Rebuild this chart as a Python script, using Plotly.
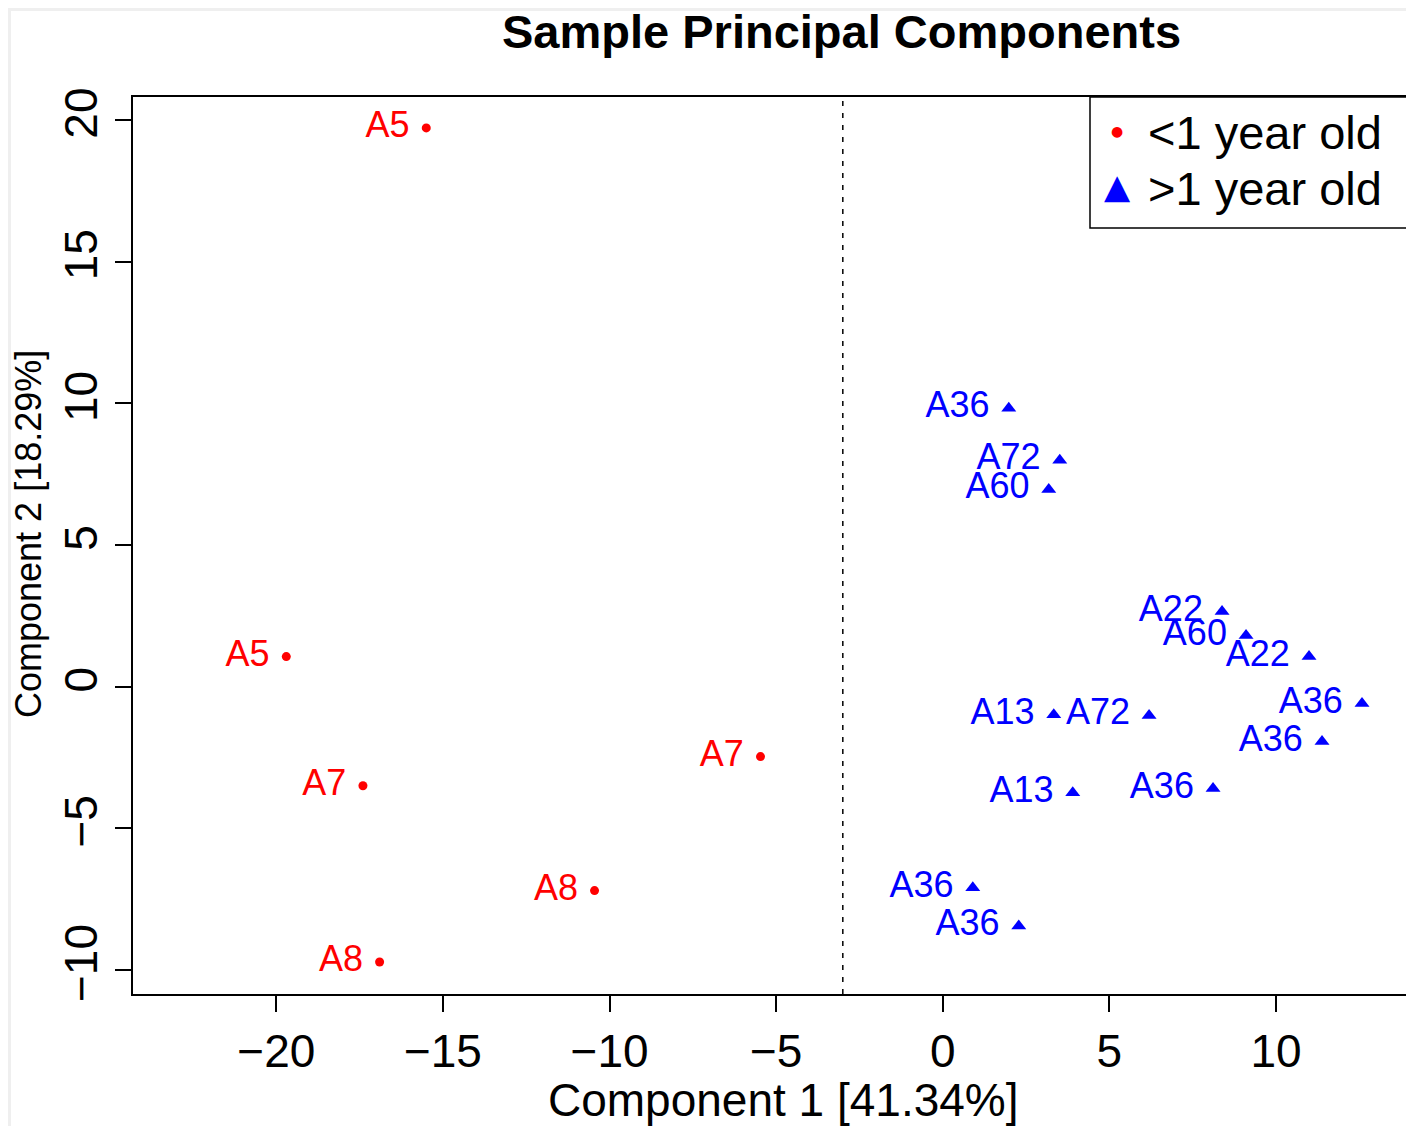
import plotly.graph_objects as go

# Data
young_labels = ["A5", "A5", "A7", "A7", "A8", "A8"]
young_pc1 = [-15.5, -19.7, -17.4, -5.47, -10.45, -16.9]
young_pc2 = [19.72, 1.06, -3.5, -2.47, -7.2, -9.72]

old_labels = ["A36", "A72", "A60", "A22", "A60", "A22", "A36", "A36",
              "A13", "A72", "A13", "A36", "A36", "A36"]
old_pc1 = [1.98, 3.51, 3.18, 8.38, 9.1, 10.99, 12.58, 11.38,
           3.33, 6.19, 3.9, 8.11, 0.9, 2.28]
old_pc2 = [9.82, 7.99, 6.96, 2.65, 1.8, 1.06, -0.6, -1.94,
           -0.99, -1.02, -3.75, -3.6, -7.1, -8.45]

x_ticks = [-20, -15, -10, -5, 0, 5, 10]
y_ticks = [-10, -5, 0, 5, 10, 15, 20]
divider_x = -3

FONT = "Liberation Sans, Arial, sans-serif"

# figure geometry (page is offset by 8px body margin)
W, H = 1406, 1118
L, R, T, B = 125, 6, 89, 132
PW, PH = W - L - R, H - T - B


def px(xp):
    return (xp - 8 - L) / PW


def py(yp):
    return (H - B - (yp - 8)) / PH


fig = go.Figure()
fig.add_trace(go.Scatter(
    x=young_pc1, y=young_pc2, text=young_labels, mode="markers+text",
    textposition="middle left", texttemplate="%{text}\u00a0",
    marker=dict(color="#ff0000", size=9, symbol="circle"),
    textfont=dict(color="#ff0000", size=36, family=FONT),
    showlegend=False, cliponaxis=False))
fig.add_trace(go.Scatter(
    x=old_pc1, y=old_pc2, text=old_labels, mode="markers+text",
    textposition="middle left", texttemplate="%{text}\u00a0",
    marker=dict(color="#0000ff", size=13, symbol="triangle-up"),
    textfont=dict(color="#0000ff", size=36, family=FONT),
    showlegend=False, cliponaxis=False))

fig.add_shape(type="line", xref="x", yref="paper", x0=divider_x, x1=divider_x,
              y0=0, y1=1, line=dict(color="black", width=1.5, dash="5px,7px"))

# faint outer frame
fig.add_shape(type="rect", xref="paper", yref="paper",
              x0=px(9.5), x1=px(1411.5), y0=py(1140), y1=py(9.5),
              line=dict(color="#efefef", width=3), layer="below")

# legend box (manual, R style)
fig.add_shape(type="rect", xref="paper", yref="paper", x0=px(1090), x1=1.0,
              y0=py(228), y1=1.0, line=dict(color="black", width=1.5),
              fillcolor="white")
fig.add_annotation(xref="paper", yref="paper", x=px(1117), y=py(131),
                   text="●", showarrow=False, font=dict(color="#ff0000", size=14, family="DejaVu Sans"),
                   xanchor="center", yanchor="middle")
fig.add_annotation(xref="paper", yref="paper", x=px(1117), y=py(186),
                   text="▲", showarrow=False, font=dict(color="#0000ff", size=34, family="DejaVu Sans"),
                   xanchor="center", yanchor="middle")
fig.add_annotation(xref="paper", yref="paper", x=px(1146), y=py(132),
                   text="<1 year old", showarrow=False, font=dict(color="black", size=47, family=FONT),
                   xanchor="left", yanchor="middle")
fig.add_annotation(xref="paper", yref="paper", x=px(1146), y=py(188),
                   text=">1 year old", showarrow=False, font=dict(color="black", size=47, family=FONT),
                   xanchor="left", yanchor="middle")

# titles
fig.add_annotation(xref="paper", yref="paper", x=px(841), y=py(32),
                   text="<b>Sample Principal Components</b>", showarrow=False,
                   font=dict(color="black", size=47, family=FONT), xanchor="center", yanchor="middle")
fig.add_annotation(xref="paper", yref="paper", x=px(783), y=py(1100),
                   text="Component 1 [41.34%]", showarrow=False,
                   font=dict(color="black", size=46, family=FONT), xanchor="center", yanchor="middle")
fig.add_annotation(xref="paper", yref="paper", x=px(28), y=py(534),
                   text="Component 2 [18.29%]", showarrow=False, textangle=-90,
                   font=dict(color="black", size=36, family=FONT), xanchor="center", yanchor="middle")

axis_common = dict(showgrid=False, zeroline=False, showline=True, linecolor="black",
                   linewidth=1.5, mirror=True, ticks="outside", ticklen=16, tickwidth=1.5,
                   tickcolor="black", tickfont=dict(size=46, family=FONT, color="black"),
                   automargin=False)
fig.update_xaxes(range=[-24.3, 13.96], tickvals=x_ticks, **axis_common)
fig.update_yaxes(range=[-10.85, 20.81], tickvals=y_ticks, tickangle=-90, **axis_common)

fig.update_layout(
    width=W, height=H,
    margin=dict(l=L, r=R, t=T, b=B),
    paper_bgcolor="white", plot_bgcolor="white",
    showlegend=False,
)

fig.write_html("out.html")
